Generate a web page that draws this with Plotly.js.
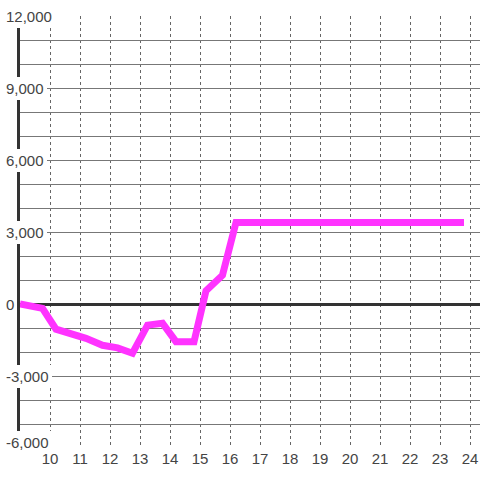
<!DOCTYPE html>
<html>
<head>
<meta charset="utf-8">
<script src="https://cdn.plot.ly/plotly-3.0.1.min.js"></script>
<style>html,body{margin:0;padding:0;background:#fff;}#chart{width:480px;height:480px;}</style>
</head>
<body>
<div id="chart"></div>
<script>
// Data
var xValues = [9.0, 9.75, 10.2, 11.2, 11.75, 12.25, 12.75, 13.25, 13.75, 14.2, 14.8, 15.2, 15.75, 16.2, 23.8];
var yValues = [0, -180, -1050, -1430, -1720, -1830, -2050, -880, -800, -1570, -1570, 550, 1200, 3400, 3400];

var xTickVals = [10, 11, 12, 13, 14, 15, 16, 17, 18, 19, 20, 21, 22, 23, 24];
var xTickText = ['10','11','12','13','14','15','16','17','18','19','20','21','22','23','24'];
var yGridVals = [-6000,-5000,-4000,-3000,-2000,-1000,0,1000,2000,3000,4000,5000,6000,7000,8000,9000,10000,11000,12000];
var yLabelVals = [-6000, -3000, 0, 3000, 6000, 9000, 12000];
var yLabelText = ['-6,000', '-3,000', '0', '3,000', '6,000', '9,000', '12,000'];

var FONT = 'Liberation Sans, Arial, sans-serif';
var TXT = '#444';
var yMin = Math.min.apply(null, yLabelVals);

var annotations = yLabelVals.map(function (v, i) {
  return {
    xref: 'paper', yref: 'y', x: 0, y: v,
    xanchor: 'left', yanchor: 'middle', xshift: -17,
    yshift: v === yMin ? 6 : 0,
    text: yLabelText[i], showarrow: false,
    bgcolor: '#ffffff', borderpad: 3, borderwidth: 0,
    font: {family: FONT, size: 15, color: TXT}
  };
});

var trace = {
  x: xValues, y: yValues, type: 'scatter', mode: 'lines',
  line: {color: '#ff33ff', width: 7},
  hoverinfo: 'skip', cliponaxis: false
};

var layout = {
  width: 480, height: 480,
  margin: {l: 20, r: 0, t: 16, b: 32},
  paper_bgcolor: '#ffffff', plot_bgcolor: '#ffffff',
  showlegend: false,
  xaxis: {
    range: [9, 24.3333], tickmode: 'array', tickvals: xTickVals, ticktext: xTickText,
    showgrid: true, gridcolor: '#666', gridwidth: 1, griddash: '3px,3px',
    zeroline: false, showline: false, ticks: '',
    tickfont: {family: FONT, size: 15, color: TXT}, fixedrange: true
  },
  yaxis: {
    range: [-6000, 12000], tickmode: 'array', tickvals: yGridVals,
    showticklabels: false, ticks: '',
    showgrid: true, gridcolor: '#777', gridwidth: 1,
    zeroline: true, zerolinecolor: '#333', zerolinewidth: 3,
    showline: true, linecolor: '#333', linewidth: 3, fixedrange: true
  },
  annotations: annotations
};

Plotly.newPlot('chart', [trace], layout, {displayModeBar: false, staticPlot: true});
</script>
</body>
</html>
